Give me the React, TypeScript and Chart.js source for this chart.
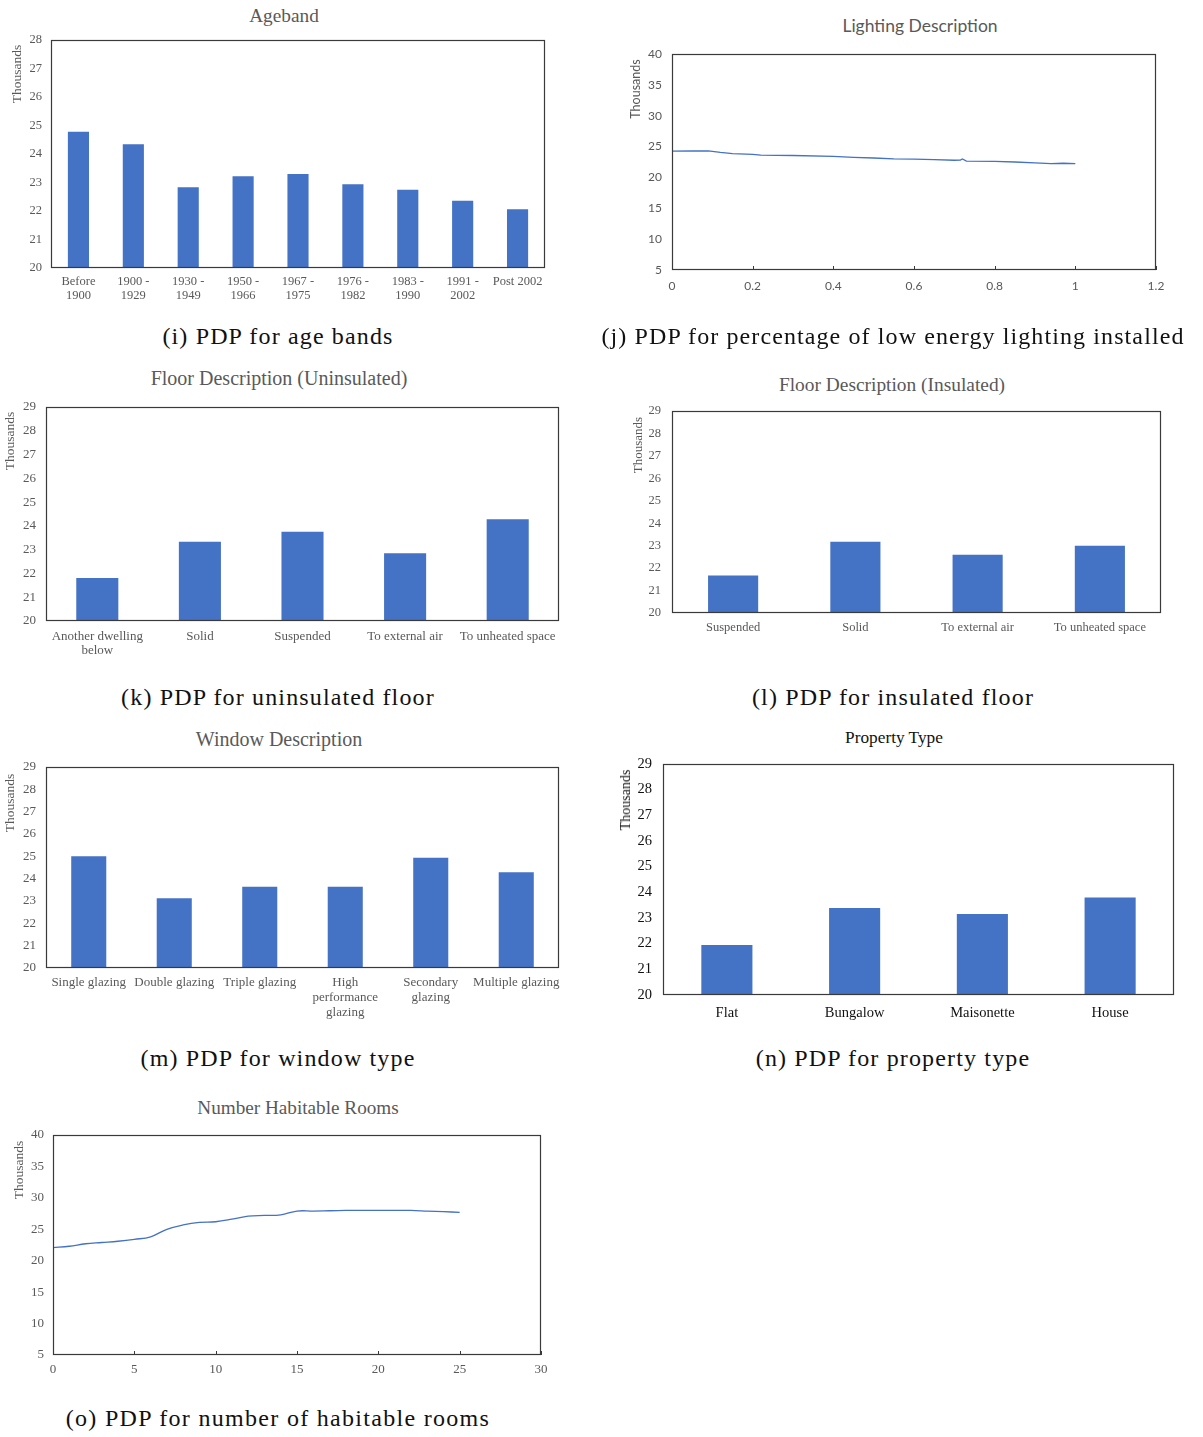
import React, { useEffect, useRef } from "react";
import { Chart, registerables } from "chart.js";
Chart.register(...registerables);

const BLUE = "#4472C4";
const GRAY = "#595959";
const SERIF = "'Liberation Serif', 'Times New Roman', serif";
const SANS = "Lato, 'Open Sans', sans-serif";
const CAPTION_FONT = "'Liberation Serif', serif";

// ---- data ----
const agebandLabels = [["Before", "1900"], ["1900 -", "1929"], ["1930 -", "1949"], ["1950 -", "1966"], ["1967 -", "1975"], ["1976 -", "1982"], ["1983 -", "1990"], ["1991 -", "2002"], "Post 2002"];
const agebandValues = [24.78, 24.34, 22.83, 23.22, 23.3, 22.94, 22.75, 22.36, 22.06];

const lightingX = [0, 0.05, 0.09, 0.12, 0.15, 0.2, 0.22, 0.3, 0.4, 0.45, 0.5, 0.55, 0.6, 0.65, 0.7, 0.715, 0.72, 0.73, 0.8, 0.85, 0.9, 0.94, 0.97, 1.0];
const lightingY = [24.25, 24.28, 24.3, 24.05, 23.85, 23.75, 23.62, 23.55, 23.4, 23.25, 23.15, 23.0, 22.98, 22.9, 22.78, 22.8, 22.98, 22.65, 22.6, 22.5, 22.35, 22.25, 22.3, 22.25];

const uninsLabels = [["Another dwelling", "below"], "Solid", "Suspended", "To external air", "To unheated space"];
const uninsValues = [21.81, 23.33, 23.75, 22.85, 24.28];

const insLabels = ["Suspended", "Solid", "To external air", "To unheated space"];
const insValues = [21.67, 23.18, 22.59, 23.0];

const windowLabels = ["Single glazing", "Double glazing", "Triple glazing", ["High", "performance", "glazing"], ["Secondary", "glazing"], "Multiple glazing"];
const windowValues = [25.0, 23.12, 23.64, 23.64, 24.94, 24.29];

const propertyLabels = ["Flat", "Bungalow", "Maisonette", "House"];
const propertyValues = [21.95, 23.39, 23.16, 23.8];

const roomsX = [0, 1, 2, 3, 4, 5, 6, 7, 8, 9, 10, 11, 12, 13, 14, 15, 16, 17, 18, 19, 20, 21, 22, 23, 24, 25];
const roomsY = [22.07, 22.3, 22.7, 22.9, 23.1, 23.4, 23.8, 25.0, 25.7, 26.1, 26.2, 26.6, 27.1, 27.2, 27.3, 27.9, 27.9, 27.95, 28.0, 28.02, 28.02, 28.02, 28.0, 27.9, 27.8, 27.7];

// ---- plugin: plot-area frame + inner x tick marks ----
const framePlugin = {
  id: "plotFrame",
  afterDatasetsDraw(chart: any, _args: any, opts: any) {
    const { ctx, chartArea: a } = chart;
    ctx.save();
    ctx.strokeStyle = opts.color || "#404040";
    ctx.lineWidth = 1.2;
    ctx.strokeRect(a.left + 0.5, a.top + 0.5, a.right - a.left - 1, a.bottom - a.top - 1);
    if (opts.innerTicks) {
      const xs = chart.scales.x;
      ctx.lineWidth = 1;
      xs.ticks.forEach((t: any) => {
        const px = Math.round(xs.getPixelForValue(t.value)) + 0.5;
        ctx.beginPath();
        ctx.moveTo(px, a.bottom);
        ctx.lineTo(px, a.bottom - 4);
        ctx.stroke();
      });
    }
    ctx.restore();
  },
};

type Spec = {
  kind: "bar" | "line";
  L: number; T: number; R: number; B: number;
  yw: number; xh: number; padTop: number; padR: number;
  ymin: number; ymax: number; ystep: number;
  labels?: any[]; values?: number[];
  xs?: number[]; ys?: number[]; xmin?: number; xmax?: number; xstep?: number; tension?: number;
  family: string; ySize: number; xSize: number; yColor: string; xColor: string;
  yPad: number; xPad: number; lh: number; barPct?: number;
};

const numFmt = (v: any) => String(Number(Number(v).toFixed(3)));

function buildConfig(s: Spec): any {
  const yScale = {
    type: "linear",
    min: s.ymin,
    max: s.ymax,
    grid: { display: false, drawTicks: false },
    border: { display: false },
    ticks: { stepSize: s.ystep, color: s.yColor, font: { family: s.family, size: s.ySize }, padding: s.yPad, callback: numFmt },
    afterFit(sc: any) { sc.width = s.yw; sc.paddingTop = 0; sc.paddingBottom = 0; },
  };
  const xCommon = {
    grid: { display: false, drawTicks: false },
    border: { display: false },
    ticks: {
      color: s.xColor,
      font: { family: s.family, size: s.xSize, lineHeight: s.lh },
      padding: s.xPad,
      maxRotation: 0,
      minRotation: 0,
      autoSkip: false,
    } as any,
    afterFit(sc: any) { sc.height = s.xh; sc.paddingLeft = 0; sc.paddingRight = 0; },
  };
  let data: any;
  let xScale: any;
  if (s.kind === "bar") {
    data = {
      labels: s.labels,
      datasets: [{ data: s.values, backgroundColor: BLUE, borderWidth: 0, categoryPercentage: 1, barPercentage: s.barPct }],
    };
    xScale = { type: "category", ...xCommon };
  } else {
    data = {
      datasets: [{
        data: (s.xs as number[]).map((x, i) => ({ x, y: (s.ys as number[])[i] })),
        borderColor: BLUE, borderWidth: 1.3, pointRadius: 0, showLine: true, tension: s.tension || 0, fill: false,
      }],
    };
    xScale = { type: "linear", min: s.xmin, max: s.xmax, ...xCommon, ticks: { ...xCommon.ticks, stepSize: s.xstep, callback: numFmt } };
  }
  return {
    type: s.kind === "bar" ? "bar" : "scatter",
    data,
    options: {
      animation: false,
      responsive: false,
      devicePixelRatio: 1,
      layout: { padding: { left: 0, top: s.padTop, right: s.padR, bottom: 0 } },
      plugins: {
        legend: { display: false },
        tooltip: { enabled: false },
        title: { display: false },
        plotFrame: { color: "#3a3a3a", innerTicks: s.kind === "line" },
      },
      scales: { x: xScale, y: yScale },
    },
    plugins: [framePlugin],
  };
}

function ChartCanvas({ spec }: { spec: Spec }) {
  const ref = useRef<HTMLCanvasElement>(null);
  useEffect(() => {
    const chart = new Chart(ref.current as HTMLCanvasElement, buildConfig(spec));
    return () => chart.destroy();
  }, [spec]);
  const left = spec.L - spec.yw;
  const top = spec.T - spec.padTop;
  const w = spec.R - spec.L + spec.yw + spec.padR;
  const h = spec.B - spec.T + spec.padTop + spec.xh;
  return <canvas ref={ref} width={w} height={h} style={{ position: "absolute", left, top, width: w, height: h }} />;
}

const serifBar = { family: SERIF, ySize: 13, xSize: 13, yColor: GRAY, xColor: GRAY, yPad: 10, lh: 1.08 };

const specs: Spec[] = [
  { kind: "bar", L: 51, T: 40, R: 545, B: 268, yw: 40, xh: 45, padTop: 10, padR: 14, ymin: 20, ymax: 28, ystep: 1,
    labels: agebandLabels, values: agebandValues, ...serifBar, ySize: 12.5, xSize: 12.5, lh: 1.12, yPad: 9, xPad: 7, barPct: 0.385 },
  { kind: "line", L: 672, T: 54, R: 1156, B: 270, yw: 40, xh: 30, padTop: 10, padR: 20, ymin: 5, ymax: 40, ystep: 5,
    xs: lightingX, ys: lightingY, xmin: 0, xmax: 1.2, xstep: 0.2, tension: 0,
    family: SANS, ySize: 12, xSize: 12, yColor: GRAY, xColor: GRAY, yPad: 10, xPad: 9, lh: 1.2 },
  { kind: "bar", L: 46, T: 407, R: 559, B: 621, yw: 38, xh: 45, padTop: 10, padR: 10, ymin: 20, ymax: 29, ystep: 1,
    labels: uninsLabels, values: uninsValues, ...serifBar, xPad: 9, barPct: 0.41 },
  { kind: "bar", L: 672, T: 411, R: 1161, B: 613, yw: 40, xh: 30, padTop: 10, padR: 12, ymin: 20, ymax: 29, ystep: 1,
    labels: insLabels, values: insValues, ...serifBar, ySize: 12.5, xSize: 12.5, yPad: 11, xPad: 8, barPct: 0.41 },
  { kind: "bar", L: 46, T: 767, R: 559, B: 968, yw: 38, xh: 60, padTop: 10, padR: 10, ymin: 20, ymax: 29, ystep: 1,
    labels: windowLabels, values: windowValues, ...serifBar, xPad: 7, lh: 1.15, barPct: 0.41 },
  { kind: "bar", L: 663, T: 764, R: 1174, B: 995, yw: 40, xh: 30, padTop: 10, padR: 12, ymin: 20, ymax: 29, ystep: 1,
    labels: propertyLabels, values: propertyValues, family: SERIF, ySize: 14.5, xSize: 14.5, yColor: "#111", xColor: "#111",
    yPad: 11, xPad: 9, lh: 1.2, barPct: 0.4 },
  { kind: "line", L: 53, T: 1135, R: 541, B: 1355, yw: 42, xh: 30, padTop: 10, padR: 15, ymin: 5, ymax: 40, ystep: 5,
    xs: roomsX, ys: roomsY, xmin: 0, xmax: 30, xstep: 5, tension: 0.4,
    family: SERIF, ySize: 13, xSize: 13, yColor: GRAY, xColor: GRAY, yPad: 9, xPad: 7, lh: 1.2 },
];

type TextItem = { text: string; x: number; y: number; size: number; family: string; color: string; spacing?: number; rotate?: boolean };

const titles: TextItem[] = [
  { text: "Ageband", x: 284, y: 16, size: 19.3, family: SERIF, color: GRAY },
  { text: "Lighting Description", x: 920, y: 26, size: 17.5, family: SANS, color: GRAY },
  { text: "Floor Description (Uninsulated)", x: 279, y: 378, size: 20, family: SERIF, color: GRAY },
  { text: "Floor Description (Insulated)", x: 892, y: 385, size: 19.4, family: SERIF, color: GRAY },
  { text: "Window Description", x: 279, y: 739, size: 20, family: SERIF, color: GRAY },
  { text: "Property Type", x: 894, y: 738, size: 17.3, family: SERIF, color: "#111" },
  { text: "Number Habitable Rooms", x: 298, y: 1108, size: 19.2, family: SERIF, color: GRAY },
];

const yTitles: TextItem[] = [
  { text: "Thousands", x: 17, y: 74, size: 13.5, family: SERIF, color: GRAY, rotate: true },
  { text: "Thousands", x: 636, y: 89, size: 12.5, family: SANS, color: GRAY, rotate: true },
  { text: "Thousands", x: 10, y: 441, size: 13.5, family: SERIF, color: GRAY, rotate: true },
  { text: "Thousands", x: 637, y: 445, size: 13, family: SERIF, color: GRAY, rotate: true },
  { text: "Thousands", x: 10, y: 803, size: 13.5, family: SERIF, color: GRAY, rotate: true },
  { text: "Thousands", x: 626, y: 800, size: 14, family: SERIF, color: "#111", rotate: true },
  { text: "Thousands", x: 19, y: 1170, size: 13.5, family: SERIF, color: GRAY, rotate: true },
];

const CAP = 24;
const CSP = 1.15;
const captions: TextItem[] = [
  { text: "(i) PDP for age bands", x: 278, y: 336, size: CAP, family: CAPTION_FONT, color: "#111", spacing: CSP },
  { text: "(j) PDP for percentage of low energy lighting installed", x: 893, y: 336, size: CAP, family: CAPTION_FONT, color: "#111", spacing: 1.1 },
  { text: "(k) PDP for uninsulated floor", x: 278, y: 697, size: CAP, family: CAPTION_FONT, color: "#111", spacing: CSP },
  { text: "(l) PDP for insulated floor", x: 893, y: 697, size: CAP, family: CAPTION_FONT, color: "#111", spacing: CSP },
  { text: "(m) PDP for window type", x: 278, y: 1058, size: CAP, family: CAPTION_FONT, color: "#111", spacing: CSP },
  { text: "(n) PDP for property type", x: 893, y: 1058, size: CAP, family: CAPTION_FONT, color: "#111", spacing: CSP },
  { text: "(o) PDP for number of habitable rooms", x: 278, y: 1418, size: CAP, family: CAPTION_FONT, color: "#111", spacing: 1.3 },
];

function Txt({ t }: { t: TextItem }) {
  return (
    <div
      style={{
        position: "absolute",
        left: t.x,
        top: t.y,
        transform: `translate(-50%, -50%)${t.rotate ? " rotate(-90deg)" : ""}`,
        whiteSpace: "nowrap",
        fontFamily: t.family,
        fontSize: t.size,
        color: t.color,
        letterSpacing: t.spacing ? `${t.spacing}px` : undefined,
        lineHeight: 1,
      }}
    >
      {t.text}
    </div>
  );
}

export default function App() {
  return (
    <div style={{ position: "absolute", left: 0, top: 0, width: 1203, height: 1437, background: "#fff", overflow: "hidden" }}>
      {specs.map((s, i) => (
        <ChartCanvas key={i} spec={s} />
      ))}
      {titles.map((t, i) => <Txt key={"t" + i} t={t} />)}
      {yTitles.map((t, i) => <Txt key={"y" + i} t={t} />)}
      {captions.map((t, i) => <Txt key={"c" + i} t={t} />)}
    </div>
  );
}
